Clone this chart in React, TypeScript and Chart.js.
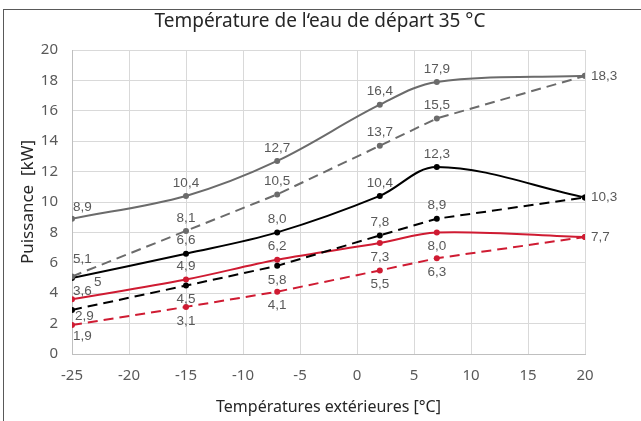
import { useEffect, useRef } from "react";
import { Chart, registerables } from "chart.js";

Chart.register(...registerables);

// ---- data ----
const outdoorTemps = [-25, -15, -7, 2, 7, 20];
const graySolid = [8.9, 10.4, 12.7, 16.4, 17.9, 18.3];
const grayDashed = [5.1, 8.1, 10.5, 13.7, 15.5, 18.3];
const blackSolid = [5, 6.6, 8.0, 10.4, 12.3, 10.3];
const blackDashed = [2.9, 4.5, 5.8, 7.8, 8.9, 10.3];
const redSolid = [3.6, 4.9, 6.2, 7.3, 8.0, 7.7];
const redDashed = [1.9, 3.1, 4.1, 5.5, 6.3, 7.7];
const xTickValues = [-25, -20, -15, -10, -5, 0, 5, 10, 15, 20];
const yTickValues = [0, 2, 4, 6, 8, 10, 12, 14, 16, 18, 20];

const titleText = "Température de l‘eau de départ 35 °C";
const xTitle = "Températures extérieures [°C]";
const yTitle = "Puissance  [kW]";

// ---- styles ----
const GRAY = "#6b6b6b";
const BLACK = "#000000";
const RED = "#cf1b32";
const LABEL_COLOR = "#595959";
const DASH = [10, 6];

// label placement per point: [dx, dy, align] or null (presentation only)
type Place = [number, number, "center" | "left"] | null;
const A: Place = [0, -13, "center"];
const B: Place = [0, 14, "center"];
const R: Place = [6, 0, "left"];
const fmt = (v: number) => v.toFixed(1).replace(".", ",");

const seriesDefs = [
  { data: graySolid, color: GRAY, dashed: false, place: [[1, -11, "left"], A, A, A, A, R] as Place[], text: (v: number) => fmt(v) },
  { data: grayDashed, color: GRAY, dashed: true, place: [[1, -17, "left"], A, A, A, A, null] as Place[], text: (v: number) => fmt(v) },
  { data: blackSolid, color: BLACK, dashed: false, place: [[22, 4, "left"], A, A, A, A, R] as Place[], text: (v: number) => (Number.isInteger(v) && v === 5 ? "5" : fmt(v)) },
  { data: blackDashed, color: BLACK, dashed: true, place: [[3, 6, "left"], B, B, A, A, null] as Place[], text: (v: number) => fmt(v) },
  { data: redSolid, color: RED, dashed: false, place: [[1, -8, "left"], A, A, B, B, R] as Place[], text: (v: number) => fmt(v) },
  { data: redDashed, color: RED, dashed: true, place: [[1, 11, "left"], B, B, B, B, null] as Place[], text: (v: number) => fmt(v) },
];

const labelPlugin = {
  id: "pointLabels",
  afterDatasetsDraw(chart: any) {
    const ctx = chart.ctx;
    ctx.save();
    ctx.font = '13.5px "Liberation Sans", Arial, sans-serif';
    ctx.fillStyle = LABEL_COLOR;
    ctx.textBaseline = "middle";
    seriesDefs.forEach((s, di) => {
      const meta = chart.getDatasetMeta(di);
      meta.data.forEach((el: any, i: number) => {
        const p = s.place[i];
        if (!p) return;
        ctx.textAlign = p[2];
        ctx.fillText(s.text(s.data[i]), el.x + p[0], el.y + p[1]);
      });
    });
    ctx.restore();
  },
};

const titlePlugin = {
  id: "customTitle",
  afterDraw(chart: any) {
    const ctx = chart.ctx;
    ctx.save();
    ctx.font = '19px "Noto Sans", sans-serif';
    ctx.fillStyle = "#262626";
    ctx.textAlign = "center";
    ctx.textBaseline = "middle";
    ctx.fillText(titleText, 320, 22);
    ctx.restore();
  },
};

export default function App() {
  const canvasRef = useRef<HTMLCanvasElement | null>(null);

  useEffect(() => {
    document.body.style.margin = "0";
    const canvas = canvasRef.current;
    if (!canvas) return;
    const chart = new Chart(canvas, {
      type: "line",
      data: {
        datasets: seriesDefs.map((s) => ({
          data: s.data.map((v, i) => ({ x: outdoorTemps[i], y: v })),
          borderColor: s.color,
          backgroundColor: s.color,
          borderWidth: 2,
          borderDash: s.dashed ? DASH : [],
          pointRadius: 3,
          pointHoverRadius: 3,
          pointBackgroundColor: s.color,
          pointBorderWidth: 0,
          tension: s.dashed ? 0 : 0.35,
          fill: false,
        })),
      },
      options: {
        animation: false,
        responsive: false,
        maintainAspectRatio: false,
        layout: { padding: { left: 8, right: 56, top: 50, bottom: 0 } },
        plugins: {
          legend: { display: false },
          tooltip: { enabled: false },
          title: { display: false },
        },
        scales: {
          x: {
            type: "linear",
            min: -25,
            max: 20,
            afterBuildTicks: (scale: any) => {
              scale.ticks = xTickValues.map((v) => ({ value: v }));
            },
            afterFit: (scale: any) => {
              scale.height = 67;
            },
            ticks: {
              color: LABEL_COLOR,
              font: { family: '"Noto Sans", sans-serif', size: 15 },
              padding: 13,
              callback: (v: any) => String(v),
            },
            grid: { color: "#d9d9d9", lineWidth: 1, drawTicks: false },
            border: { color: "#bfbfbf" },
            title: {
              display: true,
              text: xTitle,
              color: "#262626",
              font: { family: '"Noto Sans", sans-serif', size: 16 },
              padding: { top: 4, bottom: 4 },
            },
          },
          y: {
            type: "linear",
            min: 0,
            max: 20,
            afterBuildTicks: (scale: any) => {
              scale.ticks = yTickValues.map((v) => ({ value: v }));
            },
            afterFit: (scale: any) => {
              scale.width = 64;
            },
            ticks: {
              color: LABEL_COLOR,
              font: { family: '"Noto Sans", sans-serif', size: 15 },
              padding: 14,
              callback: (v: any) => String(v),
            },
            grid: { color: "#d9d9d9", lineWidth: 1, drawTicks: false },
            border: { color: "#bfbfbf" },
            title: {
              display: true,
              text: yTitle,
              color: "#262626",
              font: { family: '"Noto Sans", sans-serif', size: 17 },
              padding: { top: 10, bottom: 0 },
            },
          },
        },
      },
      plugins: [labelPlugin, titlePlugin],
    } as any);
    return () => chart.destroy();
  }, []);

  return (
    <div style={{ position: "fixed", left: 0, top: 0, width: 641, height: 421, background: "#fff", overflow: "hidden" }}>
      <div
        style={{
          position: "absolute",
          left: 3,
          top: 9,
          width: 700,
          height: 500,
          borderLeft: "1px solid #595959",
          borderTop: "1px solid #595959",
          pointerEvents: "none",
        }}
      />
      <canvas ref={canvasRef} width={641} height={421} style={{ position: "absolute", left: 0, top: 0, display: "block" }} />
    </div>
  );
}
